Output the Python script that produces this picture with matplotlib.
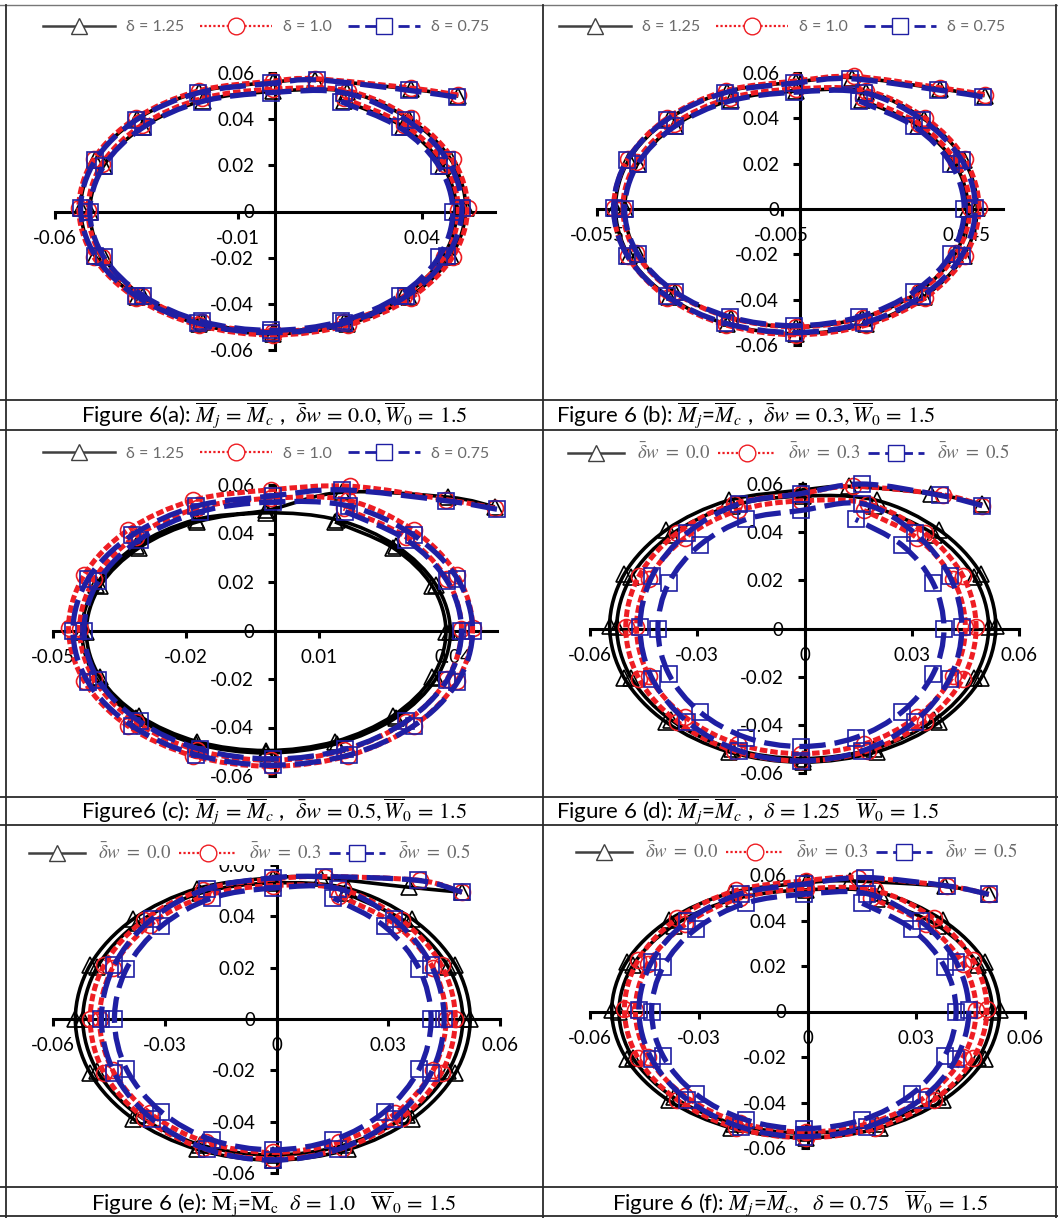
import matplotlib
matplotlib.use("Agg")
import numpy as np
import matplotlib.pyplot as plt
from matplotlib.lines import Line2D
from matplotlib.path import Path
from matplotlib.patches import PathPatch

plt.rcParams["axes.unicode_minus"] = False
plt.rcParams["mathtext.fontset"] = "stix"
plt.rcParams["font.family"] = ["Lato", "DejaVu Sans"]

W, H = 1058, 1218

# ---- data: tail, first loop, second loop ----
a_black_x = [0.050, 0.037, 0.011,
             -0.0005, -0.0206, -0.0376, -0.0490, -0.0530, -0.0490, -0.0376, -0.0206, -0.0005, 0.0196, 0.0366, 0.0480, 0.0520, 0.0480, 0.0366, 0.0196,
             -0.0005, -0.0197, -0.0359, -0.0467, -0.0505, -0.0467, -0.0359, -0.0197, -0.0005, 0.0187, 0.0349, 0.0457, 0.0495, 0.0457, 0.0349, 0.0187]
a_black_y = [0.050, 0.053, 0.057,
             0.0560, 0.0519, 0.0400, 0.0224, 0.0015, -0.0194, -0.0370, -0.0489, -0.0530, -0.0489, -0.0370, -0.0194, 0.0015, 0.0224, 0.0400, 0.0519,
             0.0520, 0.0480, 0.0368, 0.0199, 0.0, -0.0199, -0.0368, -0.0480, -0.0520, -0.0480, -0.0368, -0.0199, 0.0, 0.0199, 0.0368, 0.0480]
a_red_x = [0.050, 0.037, 0.011,
           -0.0005, -0.0208, -0.0380, -0.0495, -0.0535, -0.0495, -0.0380, -0.0208, -0.0005, 0.0198, 0.0370, 0.0485, 0.0525, 0.0485, 0.0370, 0.0198,
           -0.0005, -0.0198, -0.0362, -0.0472, -0.0510, -0.0472, -0.0362, -0.0198, -0.0005, 0.0188, 0.0352, 0.0462, 0.0500, 0.0462, 0.0352, 0.0188]
a_red_y = [0.0505, 0.0535, 0.0575,
           0.0565, 0.0523, 0.0404, 0.0226, 0.0015, -0.0196, -0.0374, -0.0493, -0.0535, -0.0493, -0.0374, -0.0196, 0.0015, 0.0226, 0.0404, 0.0523,
           0.0530, 0.0490, 0.0376, 0.0206, 0.0005, -0.0196, -0.0366, -0.0480, -0.0520, -0.0480, -0.0366, -0.0196, 0.0005, 0.0206, 0.0376, 0.0490]
a_blue_x = [0.0495, 0.0365, 0.0115,
            -0.0010, -0.0209, -0.0378, -0.0490, -0.0530, -0.0490, -0.0378, -0.0209, -0.0010, 0.0189, 0.0358, 0.0470, 0.0510, 0.0470, 0.0358, 0.0189,
            -0.0010, -0.0200, -0.0360, -0.0467, -0.0505, -0.0467, -0.0360, -0.0200, -0.0010, 0.0180, 0.0340, 0.0447, 0.0485, 0.0447, 0.0340, 0.0180]
a_blue_y = [0.0495, 0.0525, 0.057,
            0.0555, 0.0514, 0.0397, 0.0222, 0.0015, -0.0192, -0.0367, -0.0484, -0.0525, -0.0484, -0.0367, -0.0192, 0.0015, 0.0222, 0.0397, 0.0514,
            0.0515, 0.0476, 0.0364, 0.0197, 0.0, -0.0197, -0.0364, -0.0476, -0.0515, -0.0476, -0.0364, -0.0197, 0.0, 0.0197, 0.0364, 0.0476]

b_black_x = [0.050, 0.038, 0.014,
             -0.0010, -0.0198, -0.0356, -0.0463, -0.0500, -0.0463, -0.0356, -0.0198, -0.0010, 0.0178, 0.0336, 0.0443, 0.0480, 0.0443, 0.0336, 0.0178,
             -0.0010, -0.0188, -0.0339, -0.0440, -0.0475, -0.0440, -0.0339, -0.0188, -0.0010, 0.0168, 0.0319, 0.0420, 0.0455, 0.0420, 0.0319, 0.0168]
b_black_y = [0.050, 0.053, 0.058,
             0.0560, 0.0518, 0.0397, 0.0218, 0.0005, -0.0208, -0.0387, -0.0508, -0.0550, -0.0508, -0.0387, -0.0208, 0.0005, 0.0218, 0.0397, 0.0518,
             0.0520, 0.0480, 0.0368, 0.0199, 0.0, -0.0199, -0.0368, -0.0480, -0.0520, -0.0480, -0.0368, -0.0199, 0.0, 0.0199, 0.0368, 0.0480]
b_red_x = [0.050, 0.038, 0.0145,
           -0.0010, -0.0200, -0.0360, -0.0467, -0.0505, -0.0467, -0.0360, -0.0200, -0.0010, 0.0180, 0.0340, 0.0447, 0.0485, 0.0447, 0.0340, 0.0180,
           -0.0010, -0.0190, -0.0342, -0.0444, -0.0480, -0.0444, -0.0342, -0.0190, -0.0010, 0.0170, 0.0322, 0.0424, 0.0460, 0.0424, 0.0322, 0.0170]
b_red_y = [0.0505, 0.0535, 0.0585,
           0.0565, 0.0522, 0.0401, 0.0219, 0.0005, -0.0209, -0.0391, -0.0512, -0.0555, -0.0512, -0.0391, -0.0209, 0.0005, 0.0219, 0.0401, 0.0522,
           0.0530, 0.0490, 0.0376, 0.0206, 0.0005, -0.0196, -0.0366, -0.0480, -0.0520, -0.0480, -0.0366, -0.0196, 0.0005, 0.0206, 0.0376, 0.0490]
b_blue_x = [0.0495, 0.0375, 0.0135,
            -0.0015, -0.0203, -0.0361, -0.0468, -0.0505, -0.0468, -0.0361, -0.0203, -0.0015, 0.0173, 0.0331, 0.0438, 0.0475, 0.0438, 0.0331, 0.0173,
            -0.0015, -0.0191, -0.0340, -0.0440, -0.0475, -0.0440, -0.0340, -0.0191, -0.0015, 0.0161, 0.0310, 0.0410, 0.0445, 0.0410, 0.0310, 0.0161]
b_blue_y = [0.0495, 0.0525, 0.0575,
            0.0555, 0.0513, 0.0394, 0.0216, 0.0005, -0.0206, -0.0384, -0.0503, -0.0545, -0.0503, -0.0384, -0.0206, 0.0005, 0.0216, 0.0394, 0.0513,
            0.0515, 0.0476, 0.0364, 0.0197, 0.0, -0.0197, -0.0364, -0.0476, -0.0515, -0.0476, -0.0364, -0.0197, 0.0, 0.0197, 0.0364, 0.0476]

c_black_x = [0.0495, 0.039, 0.015,
             -0.0020, -0.0179, -0.0313, -0.0403, -0.0435, -0.0403, -0.0313, -0.0179, -0.0020, 0.0139, 0.0273, 0.0363, 0.0395, 0.0363, 0.0273, 0.0139,
             -0.0020, -0.0175, -0.0306, -0.0394, -0.0425, -0.0394, -0.0306, -0.0175, -0.0020, 0.0135, 0.0266, 0.0354, 0.0385, 0.0354, 0.0266, 0.0135]
c_black_y = [0.051, 0.055, 0.057,
             0.0495, 0.0457, 0.0349, 0.0187, -0.0005, -0.0197, -0.0359, -0.0467, -0.0505, -0.0467, -0.0359, -0.0197, -0.0005, 0.0187, 0.0349, 0.0457,
             0.0485, 0.0448, 0.0341, 0.0183, -0.0005, -0.0193, -0.0351, -0.0458, -0.0495, -0.0458, -0.0351, -0.0193, -0.0005, 0.0183, 0.0341, 0.0448]
c_red_x = [0.0495, 0.0385, 0.017,
           -0.0010, -0.0184, -0.0332, -0.0430, -0.0465, -0.0430, -0.0332, -0.0184, -0.0010, 0.0164, 0.0312, 0.0410, 0.0445, 0.0410, 0.0312, 0.0164,
           -0.0010, -0.0175, -0.0314, -0.0407, -0.0440, -0.0407, -0.0314, -0.0175, -0.0010, 0.0155, 0.0294, 0.0387, 0.0420, 0.0387, 0.0294, 0.0155]
c_red_y = [0.0505, 0.054, 0.0595,
           0.0580, 0.0537, 0.0413, 0.0228, 0.0010, -0.0208, -0.0393, -0.0517, -0.0560, -0.0517, -0.0393, -0.0208, 0.0010, 0.0228, 0.0413, 0.0537,
           0.0545, 0.0504, 0.0387, 0.0212, 0.0005, -0.0202, -0.0377, -0.0494, -0.0535, -0.0494, -0.0377, -0.0202, 0.0005, 0.0212, 0.0387, 0.0504]
c_blue_x = [0.050, 0.0385, 0.015,
            -0.0005, -0.0177, -0.0323, -0.0421, -0.0455, -0.0421, -0.0323, -0.0177, -0.0005, 0.0167, 0.0313, 0.0411, 0.0445, 0.0411, 0.0313, 0.0167,
            -0.0005, -0.0168, -0.0305, -0.0398, -0.0430, -0.0398, -0.0305, -0.0168, -0.0005, 0.0158, 0.0295, 0.0388, 0.0420, 0.0388, 0.0295, 0.0158]
c_blue_y = [0.050, 0.0535, 0.058,
            0.0555, 0.0513, 0.0392, 0.0213, 0.0, -0.0213, -0.0392, -0.0513, -0.0555, -0.0513, -0.0392, -0.0213, 0.0, 0.0213, 0.0392, 0.0513,
            0.0530, 0.0490, 0.0375, 0.0203, 0.0, -0.0203, -0.0375, -0.0490, -0.0530, -0.0490, -0.0375, -0.0203, 0.0, 0.0203, 0.0375, 0.0490]

d_black_x = [0.0497, 0.0355, 0.0125,
             -0.0005, -0.0212, -0.0387, -0.0504, -0.0545, -0.0504, -0.0387, -0.0212, -0.0005, 0.0202, 0.0377, 0.0494, 0.0535, 0.0494, 0.0377, 0.0202,
             -0.0005, -0.0204, -0.0373, -0.0485, -0.0525, -0.0485, -0.0373, -0.0204, -0.0005, 0.0194, 0.0363, 0.0475, 0.0515, 0.0475, 0.0363, 0.0194]
d_black_y = [0.0517, 0.056, 0.059,
             0.0575, 0.0532, 0.0409, 0.0226, 0.0010, -0.0206, -0.0389, -0.0512, -0.0555, -0.0512, -0.0389, -0.0206, 0.0010, 0.0226, 0.0409, 0.0532,
             0.0550, 0.0509, 0.0390, 0.0214, 0.0005, -0.0204, -0.0380, -0.0499, -0.0540, -0.0499, -0.0380, -0.0204, 0.0005, 0.0214, 0.0390, 0.0509]
d_red_x = [0.0497, 0.0388, 0.0135,
           -0.0010, -0.0198, -0.0356, -0.0463, -0.0500, -0.0463, -0.0356, -0.0198, -0.0010, 0.0178, 0.0336, 0.0443, 0.0480, 0.0443, 0.0336, 0.0178,
           -0.0010, -0.0186, -0.0335, -0.0435, -0.0470, -0.0435, -0.0335, -0.0186, -0.0010, 0.0166, 0.0315, 0.0415, 0.0450, 0.0415, 0.0315, 0.0166]
d_red_y = [0.051, 0.0555, 0.059,
           0.0560, 0.0518, 0.0397, 0.0218, 0.0005, -0.0208, -0.0387, -0.0508, -0.0550, -0.0508, -0.0387, -0.0208, 0.0005, 0.0218, 0.0397, 0.0518,
           0.0530, 0.0490, 0.0376, 0.0206, 0.0005, -0.0196, -0.0366, -0.0480, -0.0520, -0.0480, -0.0366, -0.0196, 0.0005, 0.0206, 0.0376, 0.0490]
d_blue_x = [0.0497, 0.0379, 0.0162,
            -0.0010, -0.0182, -0.0328, -0.0426, -0.0460, -0.0426, -0.0328, -0.0182, -0.0010, 0.0162, 0.0308, 0.0406, 0.0440, 0.0406, 0.0308, 0.0162,
            -0.0010, -0.0163, -0.0293, -0.0380, -0.0410, -0.0380, -0.0293, -0.0163, -0.0010, 0.0143, 0.0273, 0.0360, 0.0390, 0.0360, 0.0273, 0.0143]
d_blue_y = [0.051, 0.0553, 0.060,
            0.0560, 0.0518, 0.0397, 0.0218, 0.0005, -0.0208, -0.0387, -0.0508, -0.0550, -0.0508, -0.0387, -0.0208, 0.0005, 0.0218, 0.0397, 0.0518,
            0.0490, 0.0453, 0.0346, 0.0188, 0.0, -0.0188, -0.0346, -0.0453, -0.0490, -0.0453, -0.0346, -0.0188, 0.0, 0.0188, 0.0346, 0.0453]

e_black_x = [0.0498, 0.0357, 0.012,
             -0.0010, -0.0213, -0.0385, -0.0500, -0.0540, -0.0500, -0.0385, -0.0213, -0.0010, 0.0193, 0.0365, 0.0480, 0.0520, 0.0480, 0.0365, 0.0193,
             -0.0010, -0.0205, -0.0371, -0.0481, -0.0520, -0.0481, -0.0371, -0.0205, -0.0010, 0.0185, 0.0351, 0.0461, 0.0500, 0.0461, 0.0351, 0.0185]
e_black_y = [0.0494, 0.0513, 0.055,
             0.0550, 0.0508, 0.0389, 0.0211, 0.0, -0.0211, -0.0389, -0.0508, -0.0550, -0.0508, -0.0389, -0.0211, 0.0, 0.0211, 0.0389, 0.0508,
             0.0530, 0.0490, 0.0375, 0.0203, 0.0, -0.0203, -0.0375, -0.0490, -0.0530, -0.0490, -0.0375, -0.0203, 0.0, 0.0203, 0.0375, 0.0490]
e_red_x = [0.0498, 0.0385, 0.013,
           -0.0010, -0.0198, -0.0356, -0.0463, -0.0500, -0.0463, -0.0356, -0.0198, -0.0010, 0.0178, 0.0336, 0.0443, 0.0480, 0.0443, 0.0336, 0.0178,
           -0.0010, -0.0188, -0.0339, -0.0440, -0.0475, -0.0440, -0.0339, -0.0188, -0.0010, 0.0168, 0.0319, 0.0420, 0.0455, 0.0420, 0.0319, 0.0168]
e_red_y = [0.0494, 0.054, 0.0555,
           0.0545, 0.0504, 0.0385, 0.0209, 0.0, -0.0209, -0.0385, -0.0504, -0.0545, -0.0504, -0.0385, -0.0209, 0.0, 0.0209, 0.0385, 0.0504,
           0.0520, 0.0480, 0.0368, 0.0199, 0.0, -0.0199, -0.0368, -0.0480, -0.0520, -0.0480, -0.0368, -0.0199, 0.0, 0.0199, 0.0368, 0.0480]
e_blue_x = [0.0498, 0.038, 0.0127,
            -0.0010, -0.0186, -0.0335, -0.0435, -0.0470, -0.0435, -0.0335, -0.0186, -0.0010, 0.0166, 0.0315, 0.0415, 0.0450, 0.0415, 0.0315, 0.0166,
            -0.0010, -0.0173, -0.0310, -0.0403, -0.0435, -0.0403, -0.0310, -0.0173, -0.0010, 0.0153, 0.0290, 0.0383, 0.0415, 0.0383, 0.0290, 0.0153]
e_blue_y = [0.0494, 0.054, 0.0555,
            0.0550, 0.0508, 0.0389, 0.0211, 0.0, -0.0211, -0.0389, -0.0508, -0.0550, -0.0508, -0.0389, -0.0211, 0.0, 0.0211, 0.0389, 0.0508,
            0.0510, 0.0471, 0.0361, 0.0195, 0.0, -0.0195, -0.0361, -0.0471, -0.0510, -0.0471, -0.0361, -0.0195, 0.0, 0.0195, 0.0361, 0.0471]

f_black_x = [0.050, 0.038, 0.0116,
             -0.0005, -0.0210, -0.0383, -0.0499, -0.0540, -0.0499, -0.0383, -0.0210, -0.0005, 0.0200, 0.0373, 0.0489, 0.0530, 0.0489, 0.0373, 0.0200,
             -0.0005, -0.0202, -0.0369, -0.0481, -0.0520, -0.0481, -0.0369, -0.0202, -0.0005, 0.0192, 0.0359, 0.0471, 0.0510, 0.0471, 0.0359, 0.0192]
f_black_y = [0.0515, 0.055, 0.0574,
             0.0565, 0.0522, 0.0401, 0.0219, 0.0005, -0.0209, -0.0391, -0.0512, -0.0555, -0.0512, -0.0391, -0.0209, 0.0005, 0.0219, 0.0401, 0.0522,
             0.0535, 0.0494, 0.0378, 0.0205, 0.0, -0.0205, -0.0378, -0.0494, -0.0535, -0.0494, -0.0378, -0.0205, 0.0, 0.0205, 0.0378, 0.0494]
f_red_x = [0.050, 0.0386, 0.0139,
           -0.0005, -0.0197, -0.0359, -0.0467, -0.0505, -0.0467, -0.0359, -0.0197, -0.0005, 0.0187, 0.0349, 0.0457, 0.0495, 0.0457, 0.0349, 0.0187,
           -0.0005, -0.0185, -0.0337, -0.0439, -0.0475, -0.0439, -0.0337, -0.0185, -0.0005, 0.0175, 0.0327, 0.0429, 0.0465, 0.0429, 0.0327, 0.0175]
f_red_y = [0.0515, 0.0552, 0.0589,
           0.0575, 0.0532, 0.0409, 0.0226, 0.0010, -0.0206, -0.0389, -0.0512, -0.0555, -0.0512, -0.0389, -0.0206, 0.0010, 0.0226, 0.0409, 0.0532,
           0.0540, 0.0499, 0.0383, 0.0210, 0.0005, -0.0200, -0.0373, -0.0489, -0.0530, -0.0489, -0.0373, -0.0200, 0.0005, 0.0210, 0.0383, 0.0499]
f_blue_x = [0.050, 0.0386, 0.0158,
            -0.0010, -0.0184, -0.0332, -0.0430, -0.0465, -0.0430, -0.0332, -0.0184, -0.0010, 0.0164, 0.0312, 0.0410, 0.0445, 0.0410, 0.0312, 0.0164,
            -0.0010, -0.0171, -0.0307, -0.0398, -0.0430, -0.0398, -0.0307, -0.0171, -0.0010, 0.0151, 0.0287, 0.0378, 0.0410, 0.0378, 0.0287, 0.0151]
f_blue_y = [0.0515, 0.0552, 0.0589,
            0.0560, 0.0518, 0.0397, 0.0218, 0.0005, -0.0208, -0.0387, -0.0508, -0.0550, -0.0508, -0.0387, -0.0208, 0.0005, 0.0218, 0.0397, 0.0518,
            0.0515, 0.0476, 0.0364, 0.0197, 0.0, -0.0197, -0.0364, -0.0476, -0.0515, -0.0476, -0.0364, -0.0197, 0.0, 0.0197, 0.0364, 0.0476]

y_ticks = [-0.06, -0.04, -0.02, 0, 0.02, 0.04, 0.06]
y_labels = ["-0.06", "-0.04", "-0.02", "0", "0.02", "0.04", "0.06"]
a_xticks, a_xlabels = [-0.06, -0.01, 0.04], ["-0.06", "-0.01", "0.04"]
b_xticks, b_xlabels = [-0.055, -0.005, 0.045], ["-0.055", "-0.005", "0.045"]
c_xticks, c_xlabels = [-0.05, -0.02, 0.01, 0.04], ["-0.05", "-0.02", "0.01", "0.04"]
d_xticks, d_xlabels = [-0.06, -0.03, 0, 0.03, 0.06], ["-0.06", "-0.03", "0", "0.03", "0.06"]

delta_labels = ["\u03b4 = 1.25", "\u03b4 = 1.0", "\u03b4 = 0.75"]
dw_labels = [r"$\bar{\delta}w\ =\ 0.0$", r"$\bar{\delta}w\ =\ 0.3$", r"$\bar{\delta}w\ =\ 0.5$"]

captions = [
    r"Figure 6(a): $\overline{M}_j\,=\,\overline{M}_c$ ,  $\bar{\delta}w\,=\,0.0, \overline{W}_0\,=\,1.5$",
    r"Figure 6 (b): $\overline{M}_j$=$\overline{M}_c$ ,  $\bar{\delta}w\,=\,0.3, \overline{W}_0\,=\,1.5$",
    r"Figure6 (c): $\overline{M}_j\,=\,\overline{M}_c$ ,  $\bar{\delta}w\,=\,0.5, \overline{W}_0\,=\,1.5$",
    r"Figure 6 (d): $\overline{M}_j$=$\overline{M}_c$ ,  $\delta\,=\,1.25\ \ \ \overline{W}_0\,=\,1.5$",
    r"Figure 6 (e): $\overline{\mathrm{M}}_\mathrm{j}$=$\overline{\mathrm{M}}_\mathrm{c}$  $\delta\,=\,1.0\ \ \ \overline{\mathrm{W}}_0\,=\,1.5$",
    r"Figure 6 (f): $\overline{M}_j$=$\overline{M}_c,\ \ \delta\,=\,0.75\ \ \ \overline{W}_0\,=\,1.5$",
]

BLACK = "#000000"
RED = "#ee1d23"
BLUE = "#1f1fa3"
GREY = "#6b6b6b"

fig = plt.figure(figsize=(W / 100, H / 100), dpi=100)


def rect(l, r, t, b):
    return [l / W, 1 - b / H, (r - l) / W, (b - t) / H]


def smoothed(x, y):
    # Excel style "smoothed line": cubic segments through every data point
    p = np.column_stack([x, y])
    ext = np.vstack([p[0], p, p[-1]])
    verts, codes = [p[0]], [Path.MOVETO]
    for i in range(len(p) - 1):
        p0, p1, p2, p3 = ext[i], ext[i + 1], ext[i + 2], ext[i + 3]
        verts += [p1 + (p2 - p0) / 6, p2 - (p3 - p1) / 6, p2]
        codes += [Path.CURVE4] * 3
    return Path(verts, codes)


def draw_series(ax, x, y, color, lw, ls, marker, z):
    ax.add_patch(PathPatch(smoothed(x, y), facecolor="none", edgecolor=color, lw=lw,
                           linestyle=ls, zorder=z, clip_on=False))
    ax.plot(x, y, ls="none", marker=marker, ms=11.5, mfc="none", mec=color, mew=1.2, zorder=z + 0.5, clip_on=False)


def panel(box, xlim, xticks, xlabels, series, labels, leg_xy, leg_font, hl, cs):
    ax = fig.add_axes(rect(*box))
    ax.set_xlim(*xlim)
    ax.set_ylim(-0.06, 0.06)
    ax.patch.set_alpha(0)
    for side in ("top", "right"):
        ax.spines[side].set_visible(False)
    ax.spines["left"].set_position(("data", 0))
    ax.spines["bottom"].set_position(("data", 0))
    for side in ("left", "bottom"):
        ax.spines[side].set_linewidth(2.2)
        ax.spines[side].set_zorder(1)
    ax.set_axisbelow(True)
    ax.set_xticks(xticks)
    ax.set_xticklabels(xlabels)
    ax.set_yticks(y_ticks)
    ax.set_yticklabels(y_labels)
    ax.tick_params(direction="out", length=5, width=2.2, labelsize=13.5, colors="black")
    ax.tick_params(axis="y", pad=10)
    ax.tick_params(axis="x", pad=8)

    (bx, by), (rx, ry), (ux, uy) = series
    draw_series(ax, bx, by, BLACK, 2.6, "-", "^", 3)
    draw_series(ax, rx, ry, RED, 3.6, (0, (1.5, 0.6)), "o", 4)
    draw_series(ax, ux, uy, BLUE, 3.8, (0, (5.0, 1.7)), "s", 5)

    handles = [
        Line2D([], [], color="#404040", lw=1.8, marker="^", ms=12, mfc="white", mec="#404040", mew=1.0),
        Line2D([], [], color=RED, lw=1.6, ls=(0, (1, 1)), marker="o", ms=12, mfc="white", mec=RED, mew=1.0),
        Line2D([], [], color=BLUE, lw=2.0, ls=(0, (4, 2)), marker="s", ms=12, mfc="white", mec=BLUE, mew=1.0),
    ]
    leg = ax.legend(handles, labels, loc="center", ncol=3, numpoints=1,
                    bbox_to_anchor=(leg_xy[0] / W, 1 - leg_xy[1] / H), bbox_transform=fig.transFigure,
                    fontsize=leg_font, handlelength=hl, handletextpad=0.7, columnspacing=cs,
                    borderpad=0.15, frameon=True, fancybox=False)
    leg.get_frame().set_facecolor("white")
    leg.get_frame().set_edgecolor("none")
    leg.get_frame().set_alpha(1)
    leg.set_zorder(10)
    for t in leg.get_texts():
        t.set_color(GREY)
    return ax


panel((55, 495, 73, 350), (-0.06, 0.06), a_xticks, a_xlabels,
      [(a_black_x, a_black_y), (a_red_x, a_red_y), (a_blue_x, a_blue_y)], delta_labels, (266, 27), 11.5, 4.5, 1.0)
panel((597, 1003, 73, 345), (-0.055, 0.055), b_xticks, b_xlabels,
      [(b_black_x, b_black_y), (b_red_x, b_red_y), (b_blue_x, b_blue_y)], delta_labels, (782, 27), 11.5, 4.5, 1.0)
panel((53, 497, 485, 776), (-0.05, 0.05), c_xticks, c_xlabels,
      [(c_black_x, c_black_y), (c_red_x, c_red_y), (c_blue_x, c_blue_y)], delta_labels, (266, 454), 11.5, 4.5, 1.0)
panel((590, 1019, 484, 773), (-0.06, 0.06), d_xticks, d_xlabels,
      [(d_black_x, d_black_y), (d_red_x, d_red_y), (d_blue_x, d_blue_y)], dw_labels, (789, 452), 13.5, 3.0, 0.4)
panel((53, 500, 865, 1173), (-0.06, 0.06), d_xticks, d_xlabels,
      [(e_black_x, e_black_y), (e_red_x, e_red_y), (e_blue_x, e_blue_y)], dw_labels, (250, 852), 13.5, 3.0, 0.4)
panel((590, 1025, 875, 1148), (-0.06, 0.06), d_xticks, d_xlabels,
      [(f_black_x, f_black_y), (f_red_x, f_red_y), (f_blue_x, f_blue_y)], dw_labels, (797, 851), 13.5, 3.0, 0.4)


# table frame
def hline(y, x0=0, x1=W, color="#2b2b2b", lw=1.3):
    fig.add_artist(Line2D([x0 / W, x1 / W], [1 - y / H, 1 - y / H], transform=fig.transFigure, color=color, lw=lw))


def vline(x, y0=5, y1=H, color="#2b2b2b", lw=1.3):
    fig.add_artist(Line2D([x / W, x / W], [1 - y0 / H, 1 - y1 / H], transform=fig.transFigure, color=color, lw=lw))


hline(5, color="#777777", lw=1.0)
for yy in (400, 430, 797, 825, 1187, 1216):
    hline(yy)
for xx in (6, 543, 1056):
    vline(xx)

cap_pos = [(274, 415, "center"), (556, 415, "left"), (274, 811, "center"),
           (556, 811, "left"), (274, 1203, "center"), (800, 1203, "center")]
for (cx, cy, ha), txt in zip(cap_pos, captions):
    fig.text(cx / W, 1 - cy / H, txt, ha=ha, va="center", fontsize=16)

fig.savefig("out.png", dpi=100)
